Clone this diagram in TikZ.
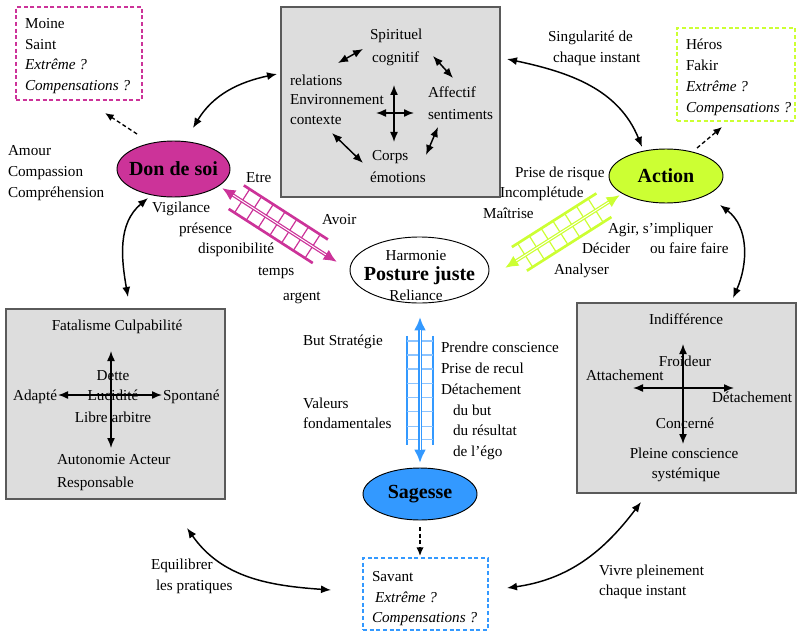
\documentclass[tikz,border=0pt]{standalone}
\usepackage{fontspec}
\setmainfont{Liberation Serif}
\usetikzlibrary{arrows.meta,shapes.geometric,calc}

\definecolor{donpink}{HTML}{CC3399}
\definecolor{actlime}{HTML}{CCFF33}
\definecolor{sagblue}{HTML}{3399FF}
\definecolor{sagrung}{HTML}{8CC4FF}
\definecolor{boxgray}{HTML}{DDDDDD}
\definecolor{edgegray}{HTML}{5A5A5A}

\newcommand\bodyfont{\fontsize{11.4pt}{14pt}\selectfont}
\newcommand\headfont{\fontsize{15pt}{18pt}\selectfont\bfseries}

% a ladder around a double-headed arrow
% #1,#2 arrow tips, #3 colour, #4 rung colour, #5 half width,
% #6,#7 rail start/end (fractions), #8 rung positions (fractions)
\newcommand\ladder[8]{%
  \draw[rail,#3] ($(#1)!#6!(#2)!#5!90:(#2)$) -- ($(#1)!#7!(#2)!#5!90:(#2)$);
  \draw[rail,#3] ($(#1)!#6!(#2)!#5!-90:(#2)$) -- ($(#1)!#7!(#2)!#5!-90:(#2)$);
  \foreach \f in {#8}{%
    \draw[rung,#4] ($(#1)!\f!(#2)!#5!90:(#2)$) -- ($(#1)!\f!(#2)!#5!-90:(#2)$);
  }
  \draw[shaft,#3] (#1) -- (#2);
  \draw[white,line width=0.7pt,shorten <=10pt,shorten >=10pt] (#1) -- (#2);
}

\begin{document}
\begin{tikzpicture}[x=0.75pt,y=-0.75pt,
  txt/.style={inner sep=0pt,outer sep=0pt,font=\bodyfont,anchor=base west},
  txtc/.style={txt,anchor=base},
  txte/.style={txt,anchor=base east},
  itx/.style={txt,font=\bodyfont\itshape},
  graybox/.style={draw=edgegray,line width=1pt,fill=boxgray,inner sep=0pt,outer sep=0pt},
  dashbox/.style={line width=1pt,dash pattern=on 3pt off 2pt,inner sep=0pt,outer sep=0pt},
  ell/.style={ellipse,draw=black,line width=0.7pt,inner sep=0pt,outer sep=0pt},
  link/.style={line width=1.1pt,{Latex[length=7.5pt,width=6pt]}-{Latex[length=7.5pt,width=6pt]}},
  hint/.style={line width=1pt,dash pattern=on 3pt off 2pt,-{Latex[length=6.5pt,width=5.5pt]}},
  shaft/.style={line width=2.6pt,{Latex[length=10pt,width=9pt]}-{Latex[length=10pt,width=9pt]}},
  rail/.style={line width=2pt},
  rung/.style={line width=0.9pt}]
\useasboundingbox (0,0) rectangle (798,631);

% ---------- boxes ----------
\node[graybox,minimum width=164.25pt,minimum height=142.5pt] (topbox) at (390.5,102) {};
\node[graybox,minimum width=164.25pt,minimum height=142.5pt] (leftbox) at (115.5,404) {};
\node[graybox,minimum width=164.25pt,minimum height=142.5pt] (rightbox) at (686.5,398) {};
\node[dashbox,draw=donpink,minimum width=94.5pt,minimum height=69.75pt] (donbox) at (79,53.5) {};
\node[dashbox,draw=actlime,minimum width=88.5pt,minimum height=69.75pt] (actbox) at (736,74.5) {};
\node[dashbox,draw=sagblue,minimum width=93.75pt,minimum height=54pt] (sagbox) at (425.5,594) {};

% ---------- ellipses ----------
\node[ell,fill=donpink,minimum width=84.75pt,minimum height=42pt,
      label={[font=\headfont]center:Don de soi}] (don) at (173.5,169) {};
\node[ell,fill=actlime,minimum width=85.5pt,minimum height=40.5pt,
      label={[font=\headfont]center:Action}] (action) at (666,176) {};
\node[ell,fill=sagblue,minimum width=85.5pt,minimum height=39pt,
      label={[font=\headfont]center:Sagesse}] (sagesse) at (420,494) {};
\node[ell,fill=white,minimum width=104.25pt,minimum height=49.5pt] (posture) at (419.5,270) {};
\node[txtc] (harmonie) at (416,260) {Harmonie};
\node[txtc,font=\headfont] (pj) at (419.5,280) {Posture juste};
\node[txtc] (reliance) at (416,300) {Reliance};

% ---------- texts ----------
\node[txt] (moine) at (25,29) {Moine};
\node[txt] (saint) at (25,50) {Saint};
\node[itx] (extr1) at (25,70) {Extrême ?};
\node[itx] (comp1) at (25,91) {Compensations ?};

\node[txt] (amour) at (8,155) {Amour};
\node[txt] (compa) at (8,176) {Compassion};
\node[txt] (compr) at (8,197) {Compréhension};

\node[txt] (spir) at (370,40) {Spirituel};
\node[txt] (cogn) at (372,63) {cognitif};
\node[txt] (relat) at (290,86) {relations};
\node[txt] (envir) at (290,105) {Environnement};
\node[txt] (conte) at (290,125) {contexte};
\node[txt] (affec) at (428,98) {Affectif};
\node[txt] (senti) at (428,120) {sentiments};
\node[txt] (corps) at (372,160) {Corps};
\node[txt] (emoti) at (370,182) {émotions};

\node[txt] (heros) at (686,50) {Héros};
\node[txt] (fakir) at (686,71) {Fakir};
\node[itx] (extr2) at (686,92) {Extrême ?};
\node[itx] (comp2) at (686,113) {Compensations ?};

\node[txt] (singu) at (548,42) {Singularité de};
\node[txt] (chaq1) at (553,63) {chaque instant};

\node[txt] (risque) at (515,177) {Prise de risque};
\node[txt] (incomp) at (500,197) {Incomplétude};
\node[txt] (maitr) at (483,218) {Maîtrise};
\node[txt] (agir) at (608,233) {Agir, s’impliquer};
\node[txt] (faire) at (650,253) {ou faire faire};
\node[txt] (decid) at (582,253) {Décider};
\node[txt] (analy) at (554,274) {Analyser};

\node[txt] (etre) at (246,182) {Etre};
\node[txt] (avoir) at (322,224) {Avoir};
\node[txt] (vigil) at (152,212) {Vigilance};
\node[txt] (prese) at (179,233) {présence};
\node[txt] (dispo) at (198,253) {disponibilité};
\node[txt] (temps) at (258,275) {temps};
\node[txt] (argent) at (283,300) {argent};

\node[txt] (butst) at (303,345) {But Stratégie};
\node[txt] (valeu) at (303,408) {Valeurs};
\node[txt] (fonda) at (303,428) {fondamentales};
\node[txt] (prend) at (441,352) {Prendre conscience};
\node[txt] (recul) at (441,373) {Prise de recul};
\node[txt] (detac1) at (441,394) {Détachement};
\node[txt] (dubut) at (453,415) {du but};
\node[txt] (resul) at (453,435) {du résultat};
\node[txt] (ego) at (453,456) {de l’égo};

\node[txt] (savant) at (372,581) {Savant};
\node[itx] (extr3) at (375,602) {Extrême ?};
\node[itx] (comp3) at (372,622) {Compensations ?};

\node[txt] (equil) at (151,569) {Equilibrer};
\node[txt] (prati) at (156,590) {les pratiques};
\node[txt] (vivre) at (599,575) {Vivre pleinement};
\node[txt] (chaq2) at (599,595) {chaque instant};

\node[txtc] (fatal) at (117,330) {Fatalisme Culpabilité};
\node[txtc] (dette) at (113,380) {Dette};
\node[txtc] (lucid) at (113,400) {Lucidité};
\node[txtc] (libre) at (113,422) {Libre arbitre};
\node[txte] (adapt) at (57,400) {Adapté};
\node[txt] (spont) at (163,400) {Spontané};
\node[txt] (auton) at (57,464) {Autonomie Acteur};
\node[txt] (respo) at (57,487) {Responsable};

\node[txtc] (indif) at (686,324) {Indifférence};
\node[txtc] (froid) at (685,366) {Froideur};
\node[txt] (attac) at (586,380) {Attachement};
\node[txt] (detac2) at (712,402) {Détachement};
\node[txtc] (conce) at (685,428) {Concerné};
\node[txtc] (plein) at (684,458) {Pleine conscience};
\node[txtc] (syste) at (686,478) {systémique};

% ---------- arrows inside the boxes ----------
\draw[link] (338,63) -- (363,49);
\draw[link] (433,56) -- (453,78);
\draw[link] (438,127) -- (426,155);
\draw[link] (332,133) -- (363,163);
\draw[link] (394,85) -- (394,142);
\draw[link] (376,113) -- (414,113);

\draw[link] (111,351) -- (111,448);
\draw[link] (58,395) -- (162,395);

\draw[link] (683,344) -- (683,444);
\draw[link] (633,388) -- (734,388);

% ---------- curved links ----------
\coordinate (donN) at (193,128);   \coordinate (topW) at (277,74);
\coordinate (topE) at (507,59);    \coordinate (actNW) at (642,147);
\coordinate (actSE) at (720,205);  \coordinate (rightN) at (733,298);
\coordinate (donS) at (148,198);   \coordinate (leftN) at (128,297);
\coordinate (leftS) at (187,528);  \coordinate (sagW) at (331,590);
\coordinate (sagE) at (507,588);   \coordinate (rightS) at (641,502);

\draw[link] (donN) to[out=59,in=192] (topW);
\draw[link] (topE) to[out=-12,in=112] (actNW);
\draw[link] (actSE) to[out=-37,in=66] (rightN);
\draw[link] (donS) to[out=-140,in=100] (leftN);
\draw[link] (leftS) to[out=-55,in=176] (sagW);
\draw[link] (sagE) to[out=8,in=233] (rightS);

% ---------- dashed hints ----------
\coordinate (donNW) at (137,134);  \coordinate (donboxS) at (105,113);
\coordinate (actNE) at (697,148);  \coordinate (actboxS) at (722,127);
\coordinate (sagS) at (420,527);   \coordinate (sagboxN) at (420,556);
\draw[hint] (donNW) -- (donboxS);
\draw[hint] (actNE) -- (actboxS);
\draw[hint] (sagS) -- (sagboxN);

% ---------- ladders ----------
\coordinate (mA) at (222,188); \coordinate (mB) at (337,262);
\ladder{mA}{mB}{donpink}{donpink}{10.5pt}{0.124}{0.855}{0.175,0.277,0.380,0.482,0.584,0.686,0.788}
\coordinate (lA) at (505,268); \coordinate (lB) at (620,195);
\ladder{lA}{lB}{actlime}{actlime}{10.5pt}{0.125}{0.86}{0.175,0.277,0.380,0.482,0.584,0.686,0.788}
\coordinate (bA) at (420,317); \coordinate (bB) at (420,463);
\ladder{bA}{bB}{sagblue}{sagrung}{9.75pt}{0.13}{0.877}{0.164,0.26,0.356,0.455,0.55,0.647,0.75,0.84}

\end{tikzpicture}
\end{document}
